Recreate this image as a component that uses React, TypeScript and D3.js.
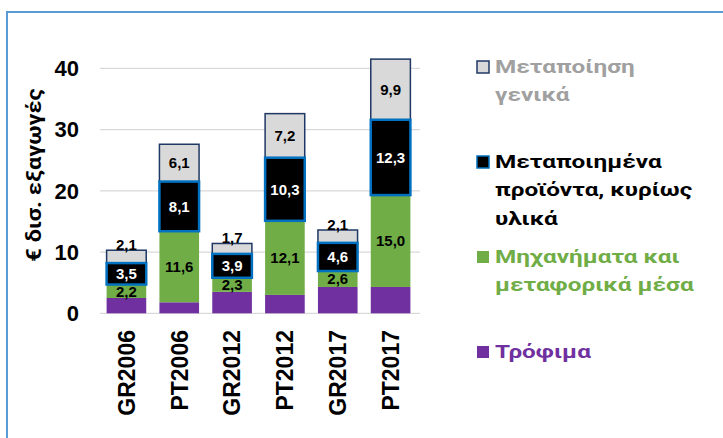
import React from 'react'
import * as d3 from 'd3'

const categories = ['GR2006', 'PT2006', 'GR2012', 'PT2012', 'GR2017', 'PT2017']
const food = [2.5, 1.8, 3.5, 3.0, 4.3, 4.3]
const machinery = [2.2, 11.6, 2.3, 12.1, 2.6, 15.0]
const processed = [3.5, 8.1, 3.9, 10.3, 4.6, 12.3]
const manufacturing = [2.1, 6.1, 1.7, 7.2, 2.1, 9.9]
const yTicks = [0, 10, 20, 30, 40]

const seriesKeys = ['food', 'machinery', 'processed', 'manufacturing']
const seriesNames = {
  food: ['Τρόφιμα'],
  machinery: ['Μηχανήματα και', 'μεταφορικά μέσα'],
  processed: ['Μεταποιημένα', 'προϊόντα, κυρίως', 'υλικά'],
  manufacturing: ['Μεταποίηση', 'γενικά'],
}

const style: Record<string, { fill: string; stroke: string; sw: number; text: string; legendText: string }> = {
  food: { fill: '#7030A0', stroke: 'none', sw: 0, text: '#000', legendText: '#7030A0' },
  machinery: { fill: '#70AD47', stroke: 'none', sw: 0, text: '#000', legendText: '#70AD47' },
  processed: { fill: '#000000', stroke: '#0070C0', sw: 2.5, text: '#fff', legendText: '#000' },
  manufacturing: { fill: '#D9D9D9', stroke: '#1F3864', sw: 1.5, text: '#000', legendText: '#A0A0A0' },
}

const rows = categories.map((c, i) => ({
  cat: c,
  food: food[i],
  machinery: machinery[i],
  processed: processed[i],
  manufacturing: manufacturing[i],
}))

const FONT = '"Liberation Sans", Arial, sans-serif'
const GREEK = 'Roboto, "Noto Sans", sans-serif'
const fmt = (v: number) => d3.format('.1f')(v).replace('.', ',')

export default function App() {
  const width = 723
  const height = 438

  const x = d3.scaleBand().domain(categories).range([100, 417]).paddingInner(0.25).paddingOuter(0.125)
  const y = d3.scaleLinear().domain([0, 40]).range([313.3, 68.3])

  const stacked = d3.stack<any>().keys(seriesKeys)(rows)
  // gray before black so the blue border sits on top
  const drawOrder = ['food', 'machinery', 'manufacturing', 'processed']

  const legendItems = [
    { key: 'manufacturing', y: 73 },
    { key: 'processed', y: 168 },
    { key: 'machinery', y: 263 },
    { key: 'food', y: 358 },
  ]

  return (
    <svg width={width} height={height} style={{ position: 'absolute', left: 0, top: 0, background: '#fff' }} fontFamily={FONT}>
      <rect x={7} y={12} width={730} height={440} fill="#fff" stroke="#5B9BD5" strokeWidth={2} />

      {yTicks.map(t => (
        <g key={t}>
          <line x1={100} x2={420} y1={y(t)} y2={y(t)} stroke="#D9D9D9" strokeWidth={1.2} />
          <text x={79} y={y(t)} dy="0.36em" textAnchor="end" fontSize={22} fontWeight="bold" fill="#000">{t}</text>
        </g>
      ))}

      <text transform={`translate(41,175) rotate(-90) scale(1.12,1)`} textAnchor="middle" fontSize={21} fontWeight="bold"
        fontFamily={GREEK} fill="#000">€ δισ. εξαγωγές</text>

      {drawOrder.map(key => {
        const s = stacked.find(d => d.key === key)!
        const st = style[key]
        return (
          <g key={key}>
            {s.map((d, i) => (
              <rect key={i}
                x={x(categories[i])!}
                width={x.bandwidth()}
                y={y(d[1])}
                height={y(d[0]) - y(d[1])}
                fill={st.fill}
                stroke={st.stroke}
                strokeWidth={st.sw} />
            ))}
          </g>
        )
      })}

      {['machinery', 'processed', 'manufacturing'].map(key => {
        const s = stacked.find(d => d.key === key)!
        const st = style[key]
        return (
          <g key={key}>
            {s.map((d, i) => {
              const v = d[1] - d[0]
              let cy = (y(d[0]) + y(d[1])) / 2
              if (key === 'manufacturing' && v < 3) cy = y(d[1]) - 5.5
              return (
                <text key={i} x={x(categories[i])! + x.bandwidth() / 2} y={cy} dy="0.36em"
                  textAnchor="middle" fontSize={15} fontWeight="bold" fill={st.text}>{fmt(v)}</text>
              )
            })}
          </g>
        )
      })}

      {categories.map(c => (
        <text key={c} transform={`translate(${x(c)! + x.bandwidth() / 2},330) rotate(-90)`} dy="0.36em"
          textAnchor="end" fontSize={23} fontWeight="bold" fill="#000">{c}</text>
      ))}

      {legendItems.map(it => {
        const st = style[it.key]
        const lines = (seriesNames as any)[it.key] as string[]
        return (
          <g key={it.key}>
            <rect x={477} y={it.y - 12} width={12} height={12} fill={st.fill}
              stroke={st.stroke === 'none' ? 'none' : st.stroke} strokeWidth={st.sw ? 1.5 : 0} />
            {lines.map((l, j) => (
              <text key={j} transform={`translate(495,${it.y + j * 28.3}) scale(1.28,1)`} fontSize={19} fontWeight="bold"
                fontFamily={GREEK} fill={st.legendText}>{l}</text>
            ))}
          </g>
        )
      })}
    </svg>
  )
}
